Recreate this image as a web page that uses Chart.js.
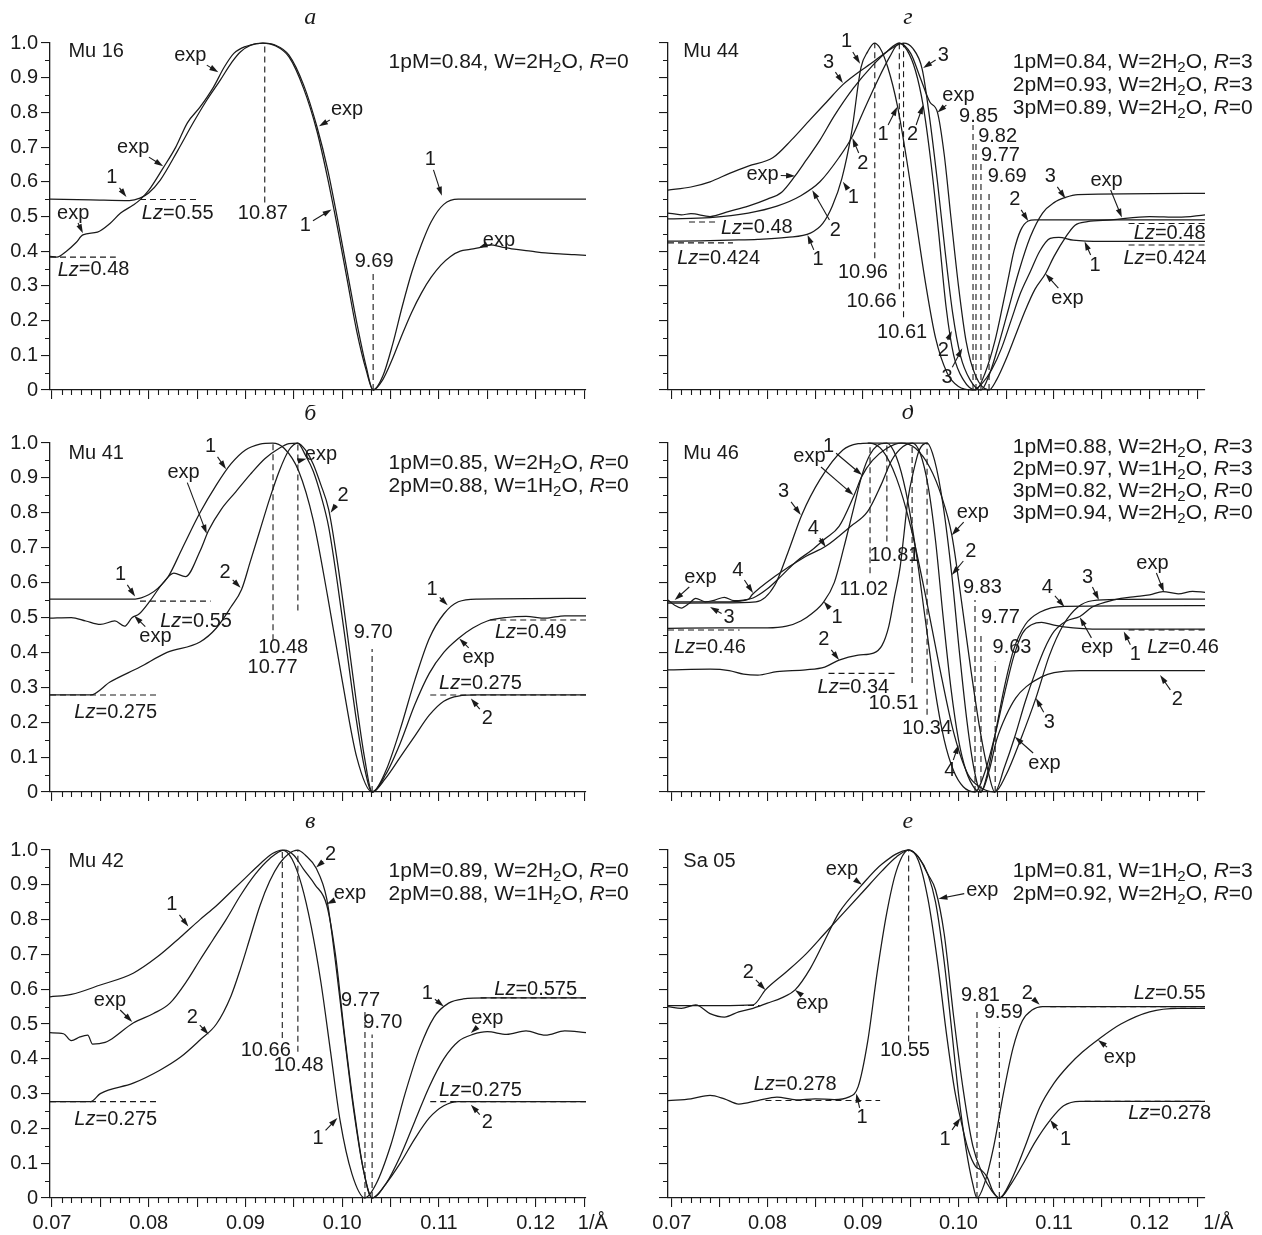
<!DOCTYPE html>
<html>
<head>
<meta charset="utf-8">
<script src="https://cdn.jsdelivr.net/npm/chart.js@4.4.1/dist/chart.umd.min.js"></script>
<style>
  body { margin: 0; background: #fff; }
  #wrap { position: relative; width: 1262px; height: 1235px; }
  #wrap canvas { position: absolute; }
</style>
</head>
<body>
<div id="wrap">
  <canvas id="pA"></canvas>
  <canvas id="pG"></canvas>
  <canvas id="pB"></canvas>
  <canvas id="pD"></canvas>
  <canvas id="pV"></canvas>
  <canvas id="pE"></canvas>
</div>
<script>
// ---- Mu 16 ----
const aX1 = [0.0698,0.0740,0.0780,0.0791,0.0800,0.0812,0.0830,0.0846,0.0860,0.0874,0.0886,0.0895,0.0905,0.0918,0.0930,0.0945,0.0960,0.0974,0.0985,0.0995,0.1005,0.1015,0.1025,0.1032,0.1042,0.1052,0.1062,0.1072,0.1082,0.1092,0.1105,0.1120,0.1252];
const aY1 = [0.550,0.548,0.546,0.553,0.568,0.605,0.690,0.770,0.835,0.893,0.945,0.975,0.993,1.000,0.993,0.960,0.870,0.745,0.610,0.470,0.320,0.170,0.055,0.000,0.040,0.130,0.240,0.340,0.420,0.485,0.535,0.550,0.550];
const aXe = [0.0698,0.0705,0.0715,0.0725,0.0732,0.0747,0.0760,0.0771,0.0784,0.0791,0.0800,0.0815,0.0828,0.0840,0.0853,0.0867,0.0878,0.0888,0.0900,0.0918,0.0930,0.0945,0.0960,0.0974,0.0985,0.0995,0.1005,0.1015,0.1025,0.1032,0.1042,0.1052,0.1062,0.1072,0.1082,0.1092,0.1102,0.1112,0.1122,0.1132,0.1142,0.1153,0.1165,0.1180,0.1195,0.1210,0.1225,0.1240,0.1252];
const aYe = [0.385,0.383,0.400,0.425,0.447,0.455,0.480,0.510,0.533,0.548,0.575,0.640,0.700,0.770,0.815,0.873,0.930,0.970,0.990,1.000,0.995,0.965,0.880,0.758,0.635,0.495,0.345,0.195,0.065,0.000,0.030,0.090,0.160,0.225,0.280,0.325,0.360,0.385,0.400,0.405,0.410,0.418,0.412,0.405,0.400,0.395,0.392,0.390,0.388];

// ---- Mu 41 ----
const bX1 = [0.0698,0.0786,0.0800,0.0810,0.0820,0.0835,0.0853,0.0870,0.0885,0.0900,0.0915,0.0928,0.0940,0.0955,0.0970,0.0985,0.1000,0.1015,0.1031,0.1045,0.1060,0.1075,0.1090,0.1105,0.1120,0.1140,0.1252];
const bY1 = [0.553,0.553,0.565,0.585,0.616,0.700,0.800,0.880,0.940,0.980,0.997,1.000,0.985,0.920,0.780,0.560,0.320,0.100,0.000,0.060,0.180,0.320,0.440,0.510,0.545,0.553,0.555];
const bX2 = [0.0698,0.0740,0.0760,0.0791,0.0819,0.0853,0.0870,0.0885,0.0896,0.0905,0.0915,0.0925,0.0935,0.0945,0.0954,0.0962,0.0970,0.0978,0.0986,0.0995,0.1005,0.1015,0.1023,0.1031,0.1045,0.1060,0.1075,0.1090,0.1105,0.1120,0.1140,0.1252];
const bY2 = [0.278,0.278,0.315,0.358,0.400,0.430,0.470,0.530,0.580,0.660,0.750,0.840,0.920,0.980,1.000,0.980,0.940,0.880,0.810,0.660,0.460,0.250,0.100,0.000,0.040,0.100,0.160,0.220,0.260,0.275,0.278,0.278];
const bXe = [0.0698,0.0720,0.0735,0.0750,0.0765,0.0775,0.0783,0.0790,0.0802,0.0815,0.0826,0.0838,0.0853,0.0862,0.0875,0.0890,0.0905,0.0920,0.0935,0.0945,0.0954,0.0962,0.0970,0.0978,0.0986,0.0995,0.1005,0.1015,0.1023,0.1031,0.1045,0.1060,0.1075,0.1090,0.1105,0.1120,0.1135,0.1150,0.1170,0.1190,0.1210,0.1230,0.1252];
const bYe = [0.498,0.500,0.490,0.480,0.490,0.475,0.500,0.510,0.550,0.600,0.627,0.617,0.690,0.750,0.810,0.860,0.910,0.955,0.985,0.998,1.000,0.965,0.920,0.850,0.760,0.600,0.400,0.200,0.070,0.000,0.050,0.140,0.250,0.340,0.400,0.440,0.470,0.490,0.500,0.503,0.498,0.505,0.505];

// ---- Mu 42 ----
const vX1 = [0.0698,0.0720,0.0750,0.0784,0.0809,0.0833,0.0853,0.0870,0.0885,0.0900,0.0915,0.0928,0.0938,0.0948,0.0958,0.0968,0.0978,0.0988,0.0998,0.1010,0.10235,0.1035,0.1050,0.1065,0.1080,0.1095,0.1110,0.1125,0.1150,0.1252];
const vY1 = [0.578,0.585,0.612,0.646,0.693,0.750,0.800,0.840,0.880,0.920,0.960,0.990,1.000,0.975,0.900,0.780,0.620,0.420,0.220,0.070,0.000,0.040,0.150,0.300,0.430,0.520,0.560,0.572,0.575,0.575];
const vX2 = [0.0698,0.0740,0.0750,0.0784,0.0812,0.0833,0.0853,0.0870,0.0885,0.0895,0.0905,0.0915,0.0925,0.0935,0.0945,0.0954,0.0962,0.0973,0.0984,0.0993,0.1002,0.1012,0.1022,0.10309,0.1045,0.1060,0.1075,0.1090,0.1105,0.1120,0.1252];
const vY2 = [0.277,0.277,0.300,0.330,0.368,0.405,0.454,0.500,0.580,0.660,0.750,0.840,0.910,0.960,0.990,1.000,0.985,0.948,0.860,0.680,0.470,0.250,0.080,0.000,0.040,0.100,0.170,0.230,0.265,0.277,0.277];
const vXe = [0.0698,0.0712,0.0720,0.0729,0.0737,0.0742,0.0755,0.0760,0.0784,0.0805,0.0822,0.0840,0.0853,0.0866,0.0880,0.0895,0.0910,0.0925,0.0940,0.0950,0.0960,0.0972,0.0984,0.0993,0.1002,0.1012,0.1022,0.10309,0.1045,0.1060,0.1075,0.1090,0.1105,0.1120,0.1135,0.1150,0.1170,0.1190,0.1210,0.1230,0.1252];
const vYe = [0.475,0.472,0.452,0.463,0.468,0.442,0.447,0.454,0.503,0.530,0.560,0.626,0.684,0.740,0.800,0.870,0.930,0.975,1.000,0.985,0.945,0.900,0.842,0.700,0.480,0.260,0.080,0.000,0.040,0.120,0.220,0.320,0.400,0.450,0.470,0.478,0.470,0.480,0.468,0.480,0.475];

// ---- Mu 44 ----
const gX1 = [0.0696,0.0730,0.0760,0.0790,0.0820,0.0845,0.0858,0.0868,0.0878,0.0888,0.0898,0.0905,0.0912,0.0918,0.0926,0.0936,0.0946,0.0956,0.0966,0.0976,0.0988,0.1000,0.1015,0.1025,0.1035,0.1045,0.1055,0.1065,0.1075,0.1085,0.1096,0.1105,0.1120,0.1150,0.1258];
const gY1 = [0.429,0.430,0.432,0.434,0.440,0.452,0.480,0.530,0.610,0.740,0.930,0.975,1.000,0.985,0.930,0.820,0.660,0.480,0.300,0.150,0.050,0.010,0.000,0.020,0.060,0.120,0.200,0.280,0.340,0.400,0.437,0.440,0.432,0.428,0.428];
const gX2 = [0.0696,0.0740,0.0780,0.0810,0.0835,0.0855,0.0875,0.0888,0.0900,0.0915,0.0928,0.0938,0.0946,0.0955,0.0963,0.0971,0.0979,0.0987,0.0995,0.1005,0.1018,0.1028,0.1038,0.1046,0.1052,0.1058,0.1065,0.1073,0.1080,0.1258];
const gY2 = [0.493,0.497,0.510,0.530,0.560,0.600,0.670,0.726,0.800,0.890,0.960,1.000,0.980,0.920,0.820,0.660,0.460,0.240,0.100,0.030,0.000,0.050,0.140,0.240,0.320,0.400,0.460,0.487,0.490,0.490];
const gX3 = [0.0696,0.0720,0.0740,0.0761,0.0780,0.0806,0.0825,0.0845,0.0862,0.0879,0.0895,0.0908,0.0925,0.09425,0.0952,0.0962,0.0970,0.0978,0.0986,0.0994,0.1002,0.1012,0.10235,0.1033,0.1043,0.1053,0.1063,0.1075,0.1088,0.1100,0.1112,0.1125,0.1258];
const gY3 = [0.576,0.585,0.600,0.625,0.645,0.670,0.720,0.780,0.830,0.880,0.915,0.940,0.975,1.000,0.985,0.925,0.780,0.600,0.400,0.220,0.100,0.030,0.000,0.050,0.140,0.240,0.340,0.440,0.510,0.540,0.555,0.563,0.567];
const gXe = [0.0696,0.0710,0.0720,0.0740,0.0760,0.0780,0.0800,0.0815,0.0829,0.0840,0.0855,0.0870,0.0890,0.0910,0.0925,0.0938,0.0950,0.0960,0.0970,0.0978,0.0985,0.0992,0.1000,0.1008,0.1018,0.1032,0.1040,0.1050,0.1060,0.1070,0.1080,0.1091,0.1100,0.1112,0.1122,0.1135,0.1160,0.1200,0.1230,0.1258];
const gYe = [0.510,0.505,0.508,0.500,0.515,0.530,0.550,0.570,0.617,0.660,0.720,0.790,0.870,0.935,0.975,1.000,0.970,0.900,0.830,0.800,0.680,0.500,0.300,0.140,0.040,0.000,0.030,0.090,0.160,0.230,0.290,0.335,0.385,0.440,0.475,0.485,0.490,0.500,0.498,0.505];

// ---- Mu 46 ----
const dX1 = [0.0696,0.0750,0.0800,0.0820,0.0835,0.0847,0.0859,0.0870,0.0880,0.0890,0.0899,0.0907,0.0915,0.0925,0.0935,0.0945,0.0955,0.0965,0.0975,0.0985,0.0995,0.1005,0.10173,0.1028,0.1038,0.1048,0.1058,0.1067,0.1077,0.1087,0.1100,0.1120,0.1140,0.1258];
const dY1 = [0.469,0.470,0.470,0.475,0.490,0.512,0.545,0.600,0.700,0.810,0.908,0.965,0.993,1.000,0.960,0.860,0.700,0.500,0.300,0.150,0.060,0.015,0.000,0.060,0.160,0.280,0.390,0.455,0.480,0.486,0.478,0.470,0.467,0.467];
const dX2 = [0.0696,0.0740,0.0760,0.0775,0.0790,0.0810,0.0840,0.0860,0.0875,0.0895,0.0911,0.0920,0.0927,0.0933,0.0939,0.0943,0.0947,0.0953,0.0959,0.0967,0.0975,0.0984,0.0993,0.1001,0.1009,0.1016,0.10235,0.1032,0.1040,0.1050,0.1060,0.1071,0.1087,0.1100,0.1127,0.1258];
const dY2 = [0.350,0.352,0.348,0.338,0.335,0.345,0.350,0.358,0.378,0.392,0.398,0.420,0.474,0.560,0.646,0.740,0.837,0.920,0.980,1.000,0.950,0.820,0.622,0.400,0.200,0.070,0.000,0.060,0.150,0.220,0.270,0.302,0.330,0.342,0.348,0.348];
const dX3 = [0.0696,0.0750,0.0788,0.0808,0.0822,0.0836,0.0855,0.0879,0.0895,0.0907,0.0920,0.0935,0.0950,0.0965,0.0980,0.0995,0.1010,0.1025,0.1038,0.1050,0.1065,0.1081,0.1095,0.1110,0.1125,0.1140,0.1170,0.1258];
const dY3 = [0.541,0.542,0.545,0.594,0.690,0.794,0.895,0.980,0.998,1.000,0.980,0.900,0.760,0.570,0.360,0.170,0.050,0.010,0.000,0.050,0.150,0.269,0.390,0.480,0.530,0.548,0.552,0.553];
const dX4 = [0.0696,0.0760,0.0780,0.0784,0.0808,0.0840,0.0861,0.0887,0.0905,0.0919,0.0930,0.0942,0.0952,0.0960,0.0968,0.0976,0.0984,0.0992,0.1000,0.1008,0.1017,0.10235,0.1030,0.1038,0.1048,0.1058,0.1070,0.1085,0.1111,0.1258];
const dY4 = [0.545,0.545,0.552,0.565,0.618,0.675,0.704,0.761,0.804,0.880,0.950,0.990,1.000,0.970,0.880,0.720,0.500,0.300,0.150,0.060,0.010,0.000,0.050,0.160,0.300,0.410,0.480,0.515,0.532,0.534];
const dXe = [0.0696,0.0703,0.0710,0.0718,0.0725,0.0735,0.0745,0.0755,0.0765,0.0775,0.0785,0.0799,0.0815,0.0830,0.0847,0.0860,0.0875,0.0891,0.0899,0.0910,0.0925,0.0940,0.0955,0.0970,0.0982,0.0993,0.1003,0.1013,0.1023,0.1031,0.1038,0.1048,0.1059,0.1070,0.1080,0.1090,0.1100,0.1113,0.1127,0.1140,0.1155,0.1170,0.1185,0.1200,0.1214,0.1230,0.1245,0.1258];
const dYe = [0.550,0.535,0.527,0.540,0.555,0.545,0.550,0.558,0.548,0.550,0.556,0.580,0.620,0.660,0.694,0.725,0.761,0.852,0.905,0.950,0.985,1.000,0.985,0.930,0.850,0.737,0.550,0.350,0.170,0.060,0.000,0.070,0.159,0.260,0.340,0.410,0.460,0.490,0.503,0.530,0.545,0.555,0.560,0.565,0.574,0.568,0.575,0.572];
const dTopX = [0.0905, 0.0968];
const dTopY = [1.0, 1.0];

// ---- Sa 05 ----
const eX1 = [0.0696,0.0720,0.0740,0.0755,0.0770,0.0790,0.0810,0.0830,0.0850,0.0870,0.0885,0.0895,0.0905,0.0915,0.0925,0.0935,0.0948,0.0958,0.0968,0.0978,0.0988,0.0996,0.1002,0.1010,0.1018,0.1024,0.1030,0.1036,0.10428,0.1055,0.1068,0.1080,0.1096,0.1110,0.1127,0.1258];
const eY1 = [0.280,0.285,0.295,0.285,0.270,0.280,0.290,0.282,0.285,0.283,0.290,0.320,0.450,0.650,0.820,0.940,1.000,0.970,0.860,0.680,0.460,0.310,0.230,0.140,0.090,0.080,0.060,0.020,0.000,0.040,0.100,0.160,0.224,0.265,0.278,0.278];
const eX2 = [0.0696,0.0750,0.0785,0.0798,0.0820,0.0840,0.0860,0.0880,0.0900,0.0920,0.0935,0.0948,0.0958,0.0968,0.0976,0.0985,0.0993,0.1000,0.1008,0.1015,0.10194,0.1027,0.1037,0.1047,0.1057,0.1067,0.1077,0.1088,0.1258];
const eY2 = [0.553,0.553,0.555,0.598,0.650,0.700,0.760,0.820,0.880,0.940,0.980,1.000,0.980,0.930,0.850,0.680,0.480,0.300,0.140,0.040,0.000,0.040,0.150,0.300,0.430,0.510,0.540,0.550,0.550];
const eXe = [0.0696,0.0710,0.0725,0.0740,0.0755,0.0770,0.0785,0.0800,0.0815,0.0829,0.0845,0.0860,0.0875,0.0899,0.0920,0.0948,0.0958,0.0968,0.0976,0.0985,0.0995,0.1005,0.1015,0.1025,0.1035,0.10428,0.1055,0.1070,0.1085,0.1100,0.1115,0.1130,0.1146,0.1170,0.1200,0.1230,0.1258];
const eYe = [0.550,0.545,0.555,0.530,0.520,0.535,0.545,0.560,0.575,0.598,0.660,0.740,0.820,0.900,0.960,1.000,0.980,0.930,0.885,0.760,0.520,0.310,0.150,0.070,0.020,0.000,0.050,0.150,0.260,0.330,0.380,0.420,0.455,0.500,0.535,0.545,0.545];

// d-spacing marks (Å): [d, from, to, label x, label y]
const aMarks = [[10.87, 0.54, 1, 0.0918, 0.51], [9.69, 0, 0.34, 0.1033, 0.369]];
const bMarks = [[10.77, 0.435, 1, 0.0928, 0.358], [10.48, 0.52, 1, 0.0939, 0.413], [9.70, 0, 0.41, 0.1032, 0.458]];
const vMarks = [[10.66, 0.46, 1, 0.0921, 0.425], [10.48, 0.42, 1, 0.0955, 0.382], [9.77, 0, 0.54, 0.1019, 0.569], [9.70, 0, 0.47, 0.1042, 0.503]];
const gMarks = [[10.96, 0.38, 1, 0.0900, 0.34], [10.66, 0.29, 1, 0.0909, 0.254], [10.61, 0.21, 1, 0.0941, 0.167],
                [9.85, 0, 0.764, 0.1021, 0.787], [9.82, 0, 0.72, 0.1041, 0.73], [9.77, 0, 0.663, 0.1044, 0.677], [9.69, 0, 0.576, 0.1051, 0.614]];
const dMarks = [[11.02, 0.627, 1, 0.0901, 0.579], [10.81, 0.718, 1, 0.0933, 0.679], [10.51, 0.312, 1, 0.0932, 0.255], [10.34, 0.221, 1, 0.0967, 0.183],
                [9.83, 0, 0.55, 0.1025, 0.587], [9.77, 0, 0.455, 0.1044, 0.499], [9.63, 0, 0.374, 0.1056, 0.415]];
const eMarks = [[10.55, 0.45, 1, 0.0944, 0.425], [9.81, 0, 0.54, 0.1023, 0.583], [9.59, 0, 0.49, 0.1047, 0.532]];

// Lz reference levels: [x from, x to, level]
const aLz = [[0.0791, 0.0850, 0.549], [0.0698, 0.0766, 0.383]];
const bLz = [[0.0791, 0.0864, 0.547], [0.0698, 0.0811, 0.278], [0.1153, 0.1252, 0.493], [0.1091, 0.1252, 0.278]];
const vLz = [[0.0698, 0.0811, 0.277], [0.1143, 0.1252, 0.575], [0.1091, 0.1252, 0.277]];
const gLz = [[0.0718, 0.0748, 0.484], [0.0696, 0.0764, 0.424], [0.1178, 0.1258, 0.480], [0.1178, 0.1258, 0.418]];
const dLz = [[0.0696, 0.0771, 0.464], [0.0864, 0.0937, 0.340], [0.1178, 0.1258, 0.464]];
const eLz = [[0.0696, 0.0792, 0.553], [0.1096, 0.1258, 0.550], [0.0798, 0.0918, 0.280], [0.1132, 0.1258, 0.278]];

// curve labels: [text, x, y, arrow tip x, arrow tip y]
const aNotes = [['exp', 0.0843, 0.965, 0.0872, 0.916], ['exp', 0.0784, 0.70, 0.0815, 0.645], ['1', 0.0762, 0.611, 0.0777, 0.556],
  ['*Lz*=0.55', 0.0830, 0.51], ['exp', 0.0722, 0.51, 0.0732, 0.452], ['*Lz*=0.48', 0.0743, 0.346],
  ['exp', 0.1005, 0.807, 0.0976, 0.76], ['1', 0.0962, 0.475, 0.0989, 0.52], ['1', 0.1091, 0.663, 0.1103, 0.56],
  ['exp', 0.1162, 0.432, 0.1141, 0.41]];
const bNotes = [['1', 0.0864, 0.989, 0.0880, 0.925], ['exp', 0.0836, 0.915, 0.0860, 0.74], ['exp', 0.0978, 0.966, 0.0963, 0.955],
  ['2', 0.1001, 0.851, 0.0988, 0.80], ['2', 0.0879, 0.63, 0.0895, 0.585], ['1', 0.0771, 0.622, 0.0786, 0.56],
  ['*Lz*=0.55', 0.0849, 0.49], ['exp', 0.0807, 0.445, 0.0785, 0.505], ['*Lz*=0.275', 0.0766, 0.228],
  ['1', 0.1093, 0.579, 0.1109, 0.535], ['*Lz*=0.49', 0.1195, 0.456], ['exp', 0.1141, 0.384, 0.1121, 0.44],
  ['*Lz*=0.275', 0.1143, 0.312], ['2', 0.1150, 0.212, 0.1133, 0.268]];
const vNotes = [['1', 0.0824, 0.842, 0.0841, 0.78], ['exp', 0.0760, 0.569, 0.0783, 0.506], ['2', 0.0845, 0.52, 0.0862, 0.47],
  ['*Lz*=0.275', 0.0766, 0.225], ['2', 0.0988, 0.986, 0.0973, 0.95], ['exp', 0.1008, 0.876, 0.0984, 0.845],
  ['1', 0.0975, 0.172, 0.0995, 0.23], ['1', 0.1088, 0.589, 0.1105, 0.55], ['*Lz*=0.575', 0.1200, 0.598],
  ['exp', 0.1150, 0.517, 0.1133, 0.474], ['*Lz*=0.275', 0.1143, 0.31], ['2', 0.1150, 0.216, 0.1133, 0.268]];
const gNotes = [['3', 0.0864, 0.945, 0.0879, 0.885], ['1', 0.0883, 1.003, 0.0897, 0.94], ['1', 0.0921, 0.735, 0.0936, 0.816],
  ['2', 0.0952, 0.735, 0.0963, 0.821], ['3', 0.0984, 0.965, 0.0963, 0.928], ['exp', 0.1000, 0.85, 0.0978, 0.80],
  ['exp', 0.0795, 0.62, 0.0829, 0.617], ['2', 0.0900, 0.654, 0.0889, 0.726], ['1', 0.0890, 0.556, 0.0879, 0.60],
  ['2', 0.0871, 0.461, 0.0847, 0.576], ['1', 0.0853, 0.375, 0.0842, 0.447],
  ['*Lz*=0.48', 0.0789, 0.467], ['*Lz*=0.424', 0.0749, 0.38],
  ['2', 0.0984, 0.115, 0.0993, 0.17], ['3', 0.0988, 0.037, 0.1004, 0.12],
  ['2', 0.1059, 0.548, 0.1073, 0.487], ['3', 0.1096, 0.614, 0.1112, 0.552], ['exp', 0.1155, 0.605, 0.1171, 0.497],
  ['1', 0.1143, 0.36, 0.1132, 0.428], ['exp', 0.1114, 0.265, 0.1091, 0.335],
  ['*Lz*=0.48', 0.1221, 0.452], ['*Lz*=0.424', 0.1216, 0.38]];
const dNotes = [['1', 0.0864, 0.989, 0.0899, 0.908], ['exp', 0.0844, 0.96, 0.0890, 0.851], ['3', 0.0817, 0.86, 0.0835, 0.794],
  ['4', 0.0848, 0.756, 0.0861, 0.702], ['exp', 0.0730, 0.616, 0.0703, 0.55], ['4', 0.0769, 0.636, 0.0785, 0.57],
  ['3', 0.0760, 0.499, 0.0740, 0.53], ['1', 0.0873, 0.501, 0.0859, 0.546], ['2', 0.0859, 0.436, 0.0875, 0.378],
  ['exp', 0.1015, 0.802, 0.0993, 0.736], ['2', 0.1013, 0.688, 0.0993, 0.622], ['4', 0.0991, 0.063, 0.1000, 0.135],
  ['4', 0.1093, 0.587, 0.1111, 0.53], ['3', 0.1135, 0.616, 0.1147, 0.55], ['exp', 0.1203, 0.656, 0.1215, 0.573],
  ['exp', 0.1145, 0.413, 0.1127, 0.501], ['1', 0.1185, 0.393, 0.1173, 0.46], ['*Lz*=0.46', 0.1235, 0.415],
  ['*Lz*=0.46', 0.0740, 0.413], ['*Lz*=0.34', 0.0890, 0.30], ['2', 0.1229, 0.264, 0.1211, 0.335],
  ['3', 0.1095, 0.20, 0.1081, 0.269], ['exp', 0.1090, 0.083, 0.1059, 0.158]];
const eNotes = [['exp', 0.0878, 0.943, 0.0899, 0.9], ['2', 0.0780, 0.649, 0.0798, 0.598], ['exp', 0.0847, 0.56, 0.0829, 0.598],
  ['exp', 0.1025, 0.885, 0.0979, 0.86], ['1', 0.0899, 0.23, 0.0893, 0.30], ['*Lz*=0.278', 0.0829, 0.325],
  ['2', 0.1072, 0.589, 0.1085, 0.555], ['*Lz*=0.55', 0.1221, 0.589], ['exp', 0.1169, 0.405, 0.1146, 0.454],
  ['1', 0.0986, 0.167, 0.1002, 0.23], ['1', 0.1112, 0.167, 0.1096, 0.224], ['*Lz*=0.278', 0.1221, 0.244]];

const FONT = "'Liberation Sans', Arial, sans-serif";
const COLS = [
  { left: 0, yw: 50, pr: 45, min: 0.0698, max: 0.1252, textRight: 0.1296, mid: 0.0967, unit: 0.1259 },
  { left: 631, yw: 37, pr: 57, min: 0.0696, max: 0.1258, textRight: 0.1308, mid: 0.0947, unit: 0.1272 }
];
const ROWS = [
  { top: 0, h: 405, pt: 43, xh: 10, pb: 5 },
  { top: 405, h: 405, pt: 38, xh: 10, pb: 8 },
  { top: 810, h: 425, pt: 40, xh: 37, pb: 0 }
];

function curve(xs, ys, dashed) {
  return {
    data: xs.map((x, i) => ({ x, y: ys[i] })),
    borderColor: '#1a1a1a', borderWidth: dashed ? 1.1 : 1.25,
    borderDash: dashed ? [6, 4] : [],
    pointRadius: 0, fill: false, clip: false,
    cubicInterpolationMode: dashed ? 'default' : 'monotone'
  };
}

// rich label: *...* italic, _c subscript
function parseRich(str) {
  const segs = []; let it = false, cur = '';
  for (let i = 0; i < str.length; i++) {
    const ch = str[i];
    if (ch === '*') { if (cur) segs.push({ t: cur, it }); cur = ''; it = !it; }
    else if (ch === '_') { if (cur) segs.push({ t: cur, it }); cur = ''; segs.push({ t: str[++i], it, sub: true }); }
    else cur += ch;
  }
  if (cur) segs.push({ t: cur, it });
  return segs;
}
function segFont(s, size) {
  return (s.it ? 'italic ' : '') + (s.sub ? Math.round(size * 0.7) : size) + 'px ' + FONT;
}
function richWidth(ctx, segs, size) {
  let w = 0;
  segs.forEach(s => { ctx.font = segFont(s, size); w += ctx.measureText(s.t).width; });
  return w;
}
function drawRich(ctx, str, px, py, align, size) {
  const segs = parseRich(str);
  const w = richWidth(ctx, segs, size);
  let x = align === 'right' ? px - w : align === 'left' ? px : px - w / 2;
  ctx.textAlign = 'left'; ctx.textBaseline = 'middle';
  segs.forEach(s => {
    ctx.font = segFont(s, size);
    ctx.fillText(s.t, x, py + (s.sub ? size * 0.28 : 0));
    x += ctx.measureText(s.t).width;
  });
  return w;
}
function arrow(ctx, x0, y0, x1, y1) {
  const dx = x1 - x0, dy = y1 - y0, L = Math.hypot(dx, dy);
  if (L < 2) return;
  const ux = dx / L, uy = dy / L, hl = 9, hw = 2.8;
  ctx.beginPath(); ctx.moveTo(x0, y0); ctx.lineTo(x1 - ux * hl * 0.7, y1 - uy * hl * 0.7); ctx.stroke();
  ctx.beginPath();
  ctx.moveTo(x1, y1);
  ctx.lineTo(x1 - ux * hl - uy * hw, y1 - uy * hl + ux * hw);
  ctx.lineTo(x1 - ux * hl + uy * hw, y1 - uy * hl - ux * hw);
  ctx.closePath(); ctx.fill();
}

const inkPlugin = {
  id: 'ink',
  afterDatasetsDraw(chart) {
    const o = chart.options.plugins.ink;
    const { ctx } = chart; const x = chart.scales.x, y = chart.scales.y;
    ctx.save();
    ctx.strokeStyle = '#1a1a1a'; ctx.fillStyle = '#1a1a1a'; ctx.lineWidth = 1.1;
    // minor ticks
    ctx.beginPath();
    for (let i = 70; i <= 125; i++) {
      if (i % 5 === 0) continue;
      const px = Math.round(x.getPixelForValue(i / 1000)) + 0.5;
      ctx.moveTo(px, y.bottom); ctx.lineTo(px, y.bottom + 5);
    }
    for (let i = 1; i < 20; i += 2) {
      const py = Math.round(y.getPixelForValue(i * 0.05)) + 0.5;
      ctx.moveTo(x.left - 5, py); ctx.lineTo(x.left, py);
    }
    ctx.stroke();
    // d-spacing labels
    o.marks.forEach(m => {
      drawRich(ctx, m[0].toFixed(2), x.getPixelForValue(m[3]), y.getPixelForValue(m[4]), 'center', 20);
    });
    // curve labels with arrows
    o.notes.forEach(n => {
      const cx = x.getPixelForValue(n[1]), cy = y.getPixelForValue(n[2]);
      const w = drawRich(ctx, n[0], cx, cy, 'center', 20);
      if (n.length > 3) {
        const tx = x.getPixelForValue(n[3]), ty = y.getPixelForValue(n[4]);
        const dx = tx - cx, dy = ty - cy, L = Math.hypot(dx, dy);
        const ux = dx / L, uy = dy / L;
        const t = Math.min((w / 2 + 2) / Math.max(Math.abs(ux), 1e-6), 10 / Math.max(Math.abs(uy), 1e-6));
        arrow(ctx, cx + ux * t, cy + uy * t, tx, ty);
      }
    });
    // sample name and parameter lines
    drawRich(ctx, o.name, x.getPixelForValue(o.nameX), y.getPixelForValue(o.nameY), 'left', 20);
    o.params.forEach((p, i) => {
      drawRich(ctx, p, x.getPixelForValue(o.col.textRight), y.getPixelForValue(o.paramY[i]), 'right', 21);
    });
    // panel letter
    ctx.font = 'italic 24px "Liberation Serif", "Times New Roman", serif';
    ctx.textAlign = 'center'; ctx.textBaseline = 'middle';
    ctx.fillText(o.letter, x.getPixelForValue(o.col.mid), y.getPixelForValue(o.letterY));
    if (o.unit) drawRich(ctx, '1/Å', x.getPixelForValue(o.col.unit), y.bottom + 25, 'center', 20);
    ctx.restore();
  }
};

function panel(id, c, r, cfg) {
  const col = COLS[c], row = ROWS[r];
  const cv = document.getElementById(id);
  cv.width = 631; cv.height = row.h;
  cv.style.left = col.left + 'px'; cv.style.top = row.top + 'px';
  const datasets = cfg.curves.map(p => curve(p[0], p[1], false));
  cfg.lz.forEach(l => datasets.push(curve([l[0], l[1]], [l[2], l[2]], true)));
  cfg.marks.forEach(m => datasets.push(curve([1 / m[0], 1 / m[0]], [m[1], m[2]], true)));
  const bottomRow = r === 2;
  new Chart(cv, {
    type: 'line',
    data: { datasets },
    plugins: [inkPlugin],
    options: {
      responsive: false, animation: false, events: [],
      layout: { padding: { left: 0, right: col.pr, top: row.pt, bottom: row.pb } },
      plugins: {
        legend: { display: false }, tooltip: { enabled: false },
        ink: {
          col, marks: cfg.marks, notes: cfg.notes, name: cfg.name, nameX: 0.0717 - c * 0.0005,
          nameY: cfg.nameY, params: cfg.params, paramY: cfg.paramY, letter: cfg.letter, letterY: cfg.letterY,
          unit: bottomRow
        }
      },
      scales: {
        x: {
          type: 'linear', min: col.min, max: col.max,
          afterFit: s => { s.height = row.xh; },
          border: { display: true, color: '#1a1a1a', width: 1.3 },
          grid: { drawOnChartArea: false, drawTicks: true, tickLength: 9, color: '#1a1a1a', lineWidth: 1.1 },
          ticks: {
            display: bottomRow, stepSize: 0.005, includeBounds: false, autoSkip: false, maxRotation: 0,
            padding: 4, color: '#1a1a1a', font: { family: FONT, size: 20 },
            callback: v => (Math.round(v * 1000) % 10 === 0 ? v.toFixed(2) : '')
          }
        },
        y: {
          type: 'linear', min: 0, max: 1,
          afterFit: s => { s.width = col.yw; },
          border: { display: true, color: '#1a1a1a', width: 1.3 },
          grid: { drawOnChartArea: false, drawTicks: true, tickLength: 9, color: '#1a1a1a', lineWidth: 1.1 },
          ticks: {
            display: c === 0, stepSize: 0.1, padding: 3, color: '#1a1a1a', font: { family: FONT, size: 20 },
            callback: v => (v === 0 ? '0' : v.toFixed(1))
          }
        }
      }
    }
  });
}

panel('pA', 0, 0, {
  curves: [[aX1, aY1], [aXe, aYe]], lz: aLz, marks: aMarks, notes: aNotes,
  name: 'Mu 16', nameY: 0.975, params: ['1pM=0.84, W=2H_2O, *R*=0'], paramY: [0.945],
  letter: 'а', letterY: 1.072
});
panel('pG', 1, 0, {
  curves: [[gX1, gY1], [gX2, gY2], [gX3, gY3], [gXe, gYe]], lz: gLz, marks: gMarks, notes: gNotes,
  name: 'Mu 44', nameY: 0.975,
  params: ['1pM=0.84, W=2H_2O, *R*=3', '2pM=0.93, W=2H_2O, *R*=3', '3pM=0.89, W=2H_2O, *R*=0'],
  paramY: [0.945, 0.879, 0.813], letter: 'г', letterY: 1.072
});
panel('pB', 0, 1, {
  curves: [[bX1, bY1], [bX2, bY2], [bXe, bYe]], lz: bLz, marks: bMarks, notes: bNotes,
  name: 'Mu 41', nameY: 0.97, params: ['1pM=0.85, W=2H_2O, *R*=0', '2pM=0.88, W=1H_2O, *R*=0'],
  paramY: [0.943, 0.877], letter: 'б', letterY: 1.083
});
panel('pD', 1, 1, {
  curves: [[dX1, dY1], [dX2, dY2], [dX3, dY3], [dX4, dY4], [dXe, dYe], [dTopX, dTopY]], lz: dLz, marks: dMarks, notes: dNotes,
  name: 'Mu 46', nameY: 0.97,
  params: ['1pM=0.88, W=2H_2O, *R*=3', '2pM=0.97, W=1H_2O, *R*=3', '3pM=0.82, W=2H_2O, *R*=0', '3pM=0.94, W=2H_2O, *R*=0'],
  paramY: [0.989, 0.926, 0.863, 0.80], letter: 'д', letterY: 1.087
});
panel('pV', 0, 2, {
  curves: [[vX1, vY1], [vX2, vY2], [vXe, vYe]], lz: vLz, marks: vMarks, notes: vNotes,
  name: 'Mu 42', nameY: 0.966, params: ['1pM=0.89, W=2H_2O, *R*=0', '2pM=0.88, W=1H_2O, *R*=0'],
  paramY: [0.94, 0.874], letter: 'в', letterY: 1.08
});
panel('pE', 1, 2, {
  curves: [[eX1, eY1], [eX2, eY2], [eXe, eYe]], lz: eLz, marks: eMarks, notes: eNotes,
  name: 'Sa 05', nameY: 0.966, params: ['1pM=0.81, W=1H_2O, *R*=3', '2pM=0.92, W=2H_2O, *R*=0'],
  paramY: [0.94, 0.874], letter: 'е', letterY: 1.08
});
</script>
</body>
</html>
